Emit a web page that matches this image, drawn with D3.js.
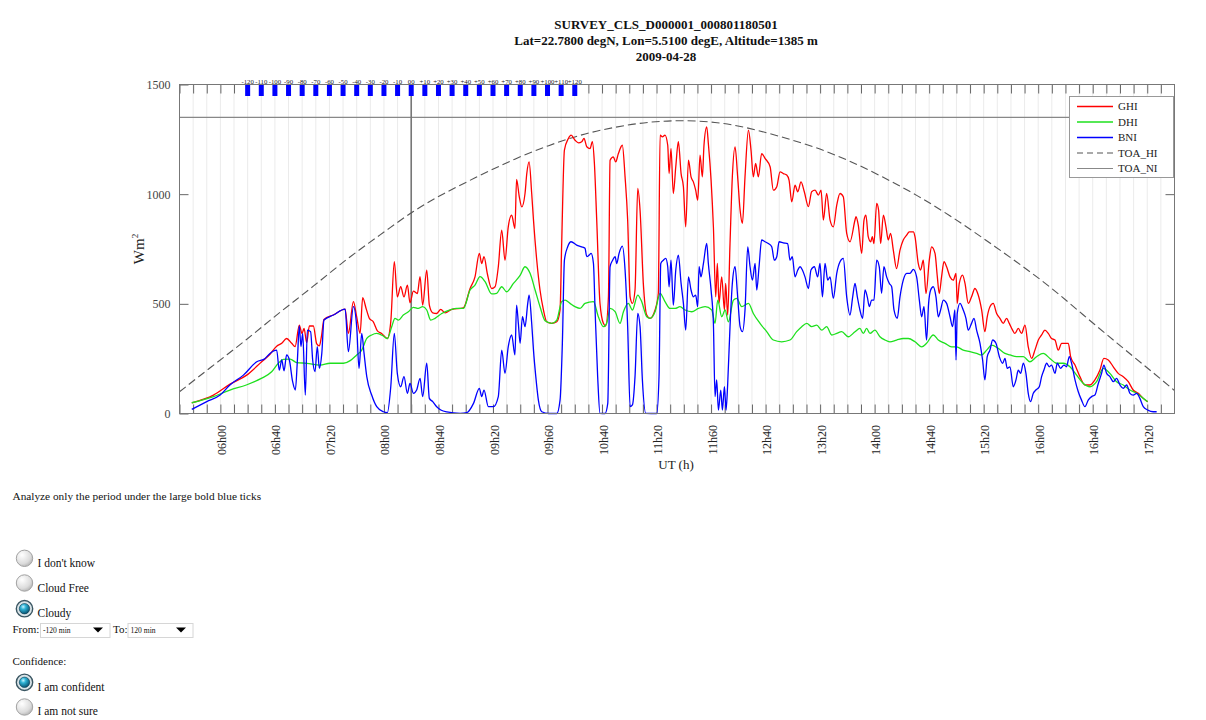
<!DOCTYPE html>
<html><head><meta charset="utf-8">
<script src="https://cdn.jsdelivr.net/npm/d3@7"></script>
<style>
body{margin:0;background:#fff;}
svg{display:block;}
text{font-family:"Liberation Serif","Times New Roman",serif;}
</style>
</head><body>
<svg id="c" width="1206" height="720"></svg>
<script>
// ---------------- data ----------------
const titleLines = ["SURVEY_CLS_D000001_000801180501",
  "Lat=22.7800 degN, Lon=5.5100 degE, Altitude=1385 m",
  "2009-04-28"];
const xTickLabels = ["06h00","06h40","07h20","08h00","08h40","09h20","09h60","10h40","11h20",
  "11h60","12h40","13h20","14h00","14h40","15h20","16h00","16h40","17h20"];
const yTickValues = [0,500,1000,1500];
const centerTime = 500; // 08:20 UT, minutes
const blueTickOffsets = [-120,-110,-100,-90,-80,-70,-60,-50,-40,-30,-20,-10,0,10,20,30,40,50,60,70,80,90,100,110,120];
const blueTickLabels = ["-120","-110","-100","-90","-80","-70","-60","-50","-40","-30","-20","-10","00",
  "+10","+20","+30","+40","+50","+60","+70","+80","+90","+100","+110","+120"];
const seriesNames = ["GHI","DHI","BNI","TOA_HI","TOA_NI"];
const TOA_NI = 1350;
// [minutes since 00:00 UT, W/m2]
const TOA_HI = [[330,99],[355,221],[379,335],[404,464],[428,578],[453,707],[477,813],[502,927],[526,1011],[551,1087],[576,1162],[601,1223],[625,1273],[650,1307],[674,1330],[698,1337],[723,1330],[747,1304],[772,1261],[796,1216],[821,1155],[846,1079],[871,996],[895,904],[920,798],[944,692],[969,578],[993,449],[1018,320],[1042,198],[1060,105]];
const GHI = [[339,49],[354.9,84],[367.1,134],[379.3,175],[390.3,236],[396.4,270],[401.3,307],[405,320],[408.6,342],[412.3,320],[414.8,305],[417.9,403],[419.9,365],[421.4,388],[423.3,323],[425.3,399],[428.2,399],[430.7,317],[432.6,308],[434.1,350],[436,429],[442.9,449],[451.5,476],[453.9,365],[457.6,510],[460,441],[462.5,365],[464.4,528],[466.9,479],[469.3,434],[472.2,418],[475.2,377],[478.3,365],[482.5,342],[485,418],[487.6,692],[489.8,532],[492.3,578],[494.7,532],[497.2,585],[499.1,505],[501.6,558],[504.5,547],[506.5,624],[508.4,494],[511.4,654],[513.3,494],[515.8,459],[518.7,456],[521.7,475],[524.9,459],[529.8,475],[538.3,482],[543.2,570],[546.8,623],[550,730],[551.7,684],[553.4,715],[555.9,636],[559,570],[561.5,578],[563.9,669],[566.4,836],[568.8,699],[571.2,851],[573.7,904],[576.1,844],[577.3,1067],[579.3,988],[581.1,942],[583.5,1003],[584.8,1094],[586.5,1147],[588.4,1003],[589.7,882],[592.1,699],[594.5,563],[597,472],[599.4,418],[603.1,411],[606.8,418],[609.2,472],[610.4,775],[612.4,1201],[615.3,1254],[617.3,1269],[620.2,1246],[622.7,1234],[625.1,1239],[626.8,1254],[628.8,1216],[631.2,1208],[632.9,1239],[634.4,1140],[636.1,882],[638.5,502],[641,411],[642.7,399],[644.7,532],[645.9,1155],[648.3,1170],[650,1147],[652,1185],[654.9,1223],[656.9,1079],[658.8,882],[660.6,532],[662.3,502],[664.2,563],[666.2,1026],[667.9,927],[670.3,593],[672.8,449],[675.2,434],[678.9,472],[681.3,548],[682.6,1269],[684.3,1261],[686.2,1269],[688.2,1223],[689.2,1094],[690.6,1208],[692.3,1003],[694.1,1125],[696,1239],[698,1094],[699.7,1034],[701.4,851],[703.4,1155],[705.3,1079],[707,1056],[708.7,1018],[710.2,973],[711.9,1178],[713.6,1079],[714.8,1223],[716.8,1307],[718,1231],[720,1064],[721.7,851],[723.4,532],[724.6,684],[725.8,502],[727.8,623],[729.8,472],[730.7,593],[732.2,449],[733.9,775],[735.6,1079],[737.6,1216],[739.5,1079],[741.3,927],[743,867],[744.9,1079],[747.4,1292],[749.3,1201],[751,1079],[752.7,1140],[754.7,1079],[757.1,1185],[759.6,1163],[763.3,1125],[765.7,1018],[768.2,1034],[770.6,1102],[773,1094],[775.5,1087],[777.2,1064],[779.2,965],[781.6,1041],[783.6,1011],[786,1056],[788.4,1011],[791.4,943],[793.8,1011],[796.3,1018],[798.7,996],[800.7,1018],[802.4,882],[804.8,1003],[807.3,882],[809.7,851],[812.2,950],[814.6,1003],[817,988],[819.5,821],[821.9,783],[825.6,882],[826.3,897],[828,859],[830.5,730],[832.2,882],[833.6,904],[835.3,806],[837.1,783],[838.3,806],[839.5,775],[841.5,958],[842.9,927],[844.4,775],[846.4,904],[848.3,851],[850,791],[851.7,821],[853.7,745],[856.1,661],[858.6,745],[861,791],[863.5,813],[865.4,828],[868.4,828],[869.6,806],[872,684],[873.7,654],[875.7,699],[877.7,547],[880.1,699],[881.8,760],[884.3,730],[886,623],[887.4,547],[889.1,623],[890.9,692],[892.8,669],[895.3,623],[897.7,608],[899.7,639],[900.6,502],[902.1,593],[904.5,631],[906.3,593],[908.7,502],[911.1,532],[913.6,570],[916,540],[918.5,472],[920.9,373],[922.6,441],[924.6,487],[927,502],[929.5,456],[931.9,434],[934.4,411],[936.8,434],[938.8,411],[941.2,380],[942.9,365],[945.4,388],[947.8,365],[950.3,403],[952.7,304],[955.2,251],[957.6,289],[960.1,335],[962.5,358],[964.9,380],[967.4,365],[969.8,342],[972.3,335],[974.7,289],[977.2,320],[979.6,320],[982.1,320],[983.8,259],[987,221],[990.6,168],[994.3,130],[998,130],[1001.6,153],[1005.3,198],[1008.2,251],[1011.4,244],[1015.1,213],[1018.7,183],[1022.4,168],[1026.1,145],[1029.7,107],[1033.4,92],[1037.1,69],[1040.3,54]];
const DHI = [[339,49],[355,77],[367,107],[379,130],[390,160],[397.6,190],[402.5,229],[406.3,247],[411.2,248],[416,232],[423.4,229],[433.1,221],[440.5,229],[450.3,229],[455.2,241],[460,267],[463.7,289],[467.4,342],[471,358],[474.7,365],[479.6,353],[482.5,342],[485.7,396],[488.1,434],[490.6,426],[494.2,449],[497.9,464],[501.6,484],[505.2,479],[508.4,487],[511.4,472],[514.3,426],[517.5,434],[522.4,456],[528.5,472],[533.4,479],[538.3,479],[543.2,563],[546.8,585],[550.5,624],[554.2,601],[559,545],[562.7,548],[566.4,578],[570,555],[575,593],[580,631],[583.5,669],[587.2,639],[590.9,563],[594.5,487],[598.2,423],[603.1,411],[606.8,426],[610.4,510],[612.9,517],[616.5,502],[620.2,487],[623.9,479],[627.5,502],[633.7,510],[637.3,441],[641,396],[643.4,411],[645.9,479],[649.6,464],[653.2,411],[655.7,464],[659.3,502],[662.3,472],[666.2,540],[669.1,510],[672.8,441],[675.2,434],[678.9,464],[682.6,548],[686.2,510],[689.9,479],[693.6,479],[697.2,487],[700.9,472],[705.8,464],[710.7,479],[715.6,487],[720.5,472],[722.9,411],[724.9,517],[727.8,441],[730.3,472],[732.7,418],[736.4,517],[738.8,525],[742.5,487],[747.4,502],[751,456],[755.9,411],[760.8,373],[765.7,335],[771.8,327],[777.9,335],[782.8,373],[786.5,396],[790.2,411],[793.8,396],[797.5,403],[801.2,380],[804.8,396],[808.5,358],[812.2,365],[815.8,373],[820.7,350],[825.6,373],[829.2,388],[831.7,365],[834.1,388],[836.6,365],[840.2,380],[843.9,350],[847.6,335],[851.2,327],[856.1,335],[861,342],[864.7,342],[869.6,327],[874.5,304],[878.1,320],[883,358],[886.7,335],[891.6,320],[896.5,304],[900.1,304],[905,289],[909.9,282],[914.8,274],[918.5,267],[922.2,289],[925.8,312],[930.7,297],[935.6,274],[939.3,267],[944.2,259],[949.1,259],[953.9,236],[958.8,259],[963.7,274],[968.6,251],[973.5,229],[978.4,229],[983.3,213],[988.2,175],[993.1,137],[998,122],[1002.8,145],[1007.7,206],[1012.6,183],[1017.5,145],[1022.4,130],[1027.3,107],[1032.2,92],[1037.1,69],[1040.3,54]];
const BNI = [[339,19],[350,54],[359.8,84],[367,130],[376.9,175],[386.7,236],[392.8,251],[396.4,274],[401.3,289],[403.2,198],[405,244],[406.7,195],[408.6,267],[410.6,244],[413,145],[415,107],[416.5,244],[417.9,399],[419.1,305],[420.4,365],[422.3,84],[423.8,380],[426.2,373],[427.7,244],[429.4,191],[431.1,305],[432.6,206],[434.4,274],[436,426],[442.9,449],[451.5,476],[453.9,282],[457.6,487],[460,396],[461.7,206],[463.7,365],[465.4,274],[467.4,168],[471,84],[474.7,31],[479.6,8],[482.5,4],[485,122],[487.6,365],[489.8,183],[492.3,122],[494.7,168],[497.2,92],[499.1,137],[501.6,92],[504,107],[506.5,160],[508.4,77],[511.4,229],[513.3,69],[515.8,54],[518.7,31],[521.7,16],[526.1,7],[535.9,1],[540.8,4],[545.7,46],[550,115],[551.7,77],[553.4,107],[556.6,31],[560.3,31],[563.9,77],[566.4,289],[568.8,183],[571.2,305],[573.7,358],[576.1,267],[577.3,494],[578.6,411],[579.9,320],[581.6,441],[583.5,396],[585.5,502],[586.5,540],[588.4,411],[589.7,289],[591.4,168],[593.3,61],[595.8,8],[600.7,0],[606.8,0],[609.2,61],[610.9,320],[612.4,699],[614.8,760],[617.3,783],[621.4,768],[625.1,760],[627.5,753],[628.8,715],[630.5,722],[632,730],[633.7,684],[634.9,472],[636.8,168],[638.5,1],[642.2,0],[644.2,46],[645.9,669],[647.8,699],[649.6,715],[650.8,684],[652.5,730],[654.9,763],[656.9,654],[658.8,396],[660.6,31],[662.3,39],[664.2,168],[666.2,456],[667.9,396],[669.6,153],[672.1,1],[680.1,0],[681.8,168],[683.1,684],[685,699],[686.7,707],[688.2,669],[689.2,578],[690.6,699],[692.3,494],[694.1,654],[696,722],[698,593],[699.7,502],[701.4,380],[703.4,623],[705.3,563],[707,532],[708.7,540],[710.2,487],[711.2,669],[712.6,623],[714.4,684],[716.8,775],[718,684],[720,563],[721.7,411],[722.9,77],[724.1,153],[725.4,16],[727.1,107],[728.3,16],[729.8,122],[731,16],[732.2,137],[733.9,396],[735.6,593],[737.6,669],[739.5,532],[741.3,396],[743,373],[744.9,472],[746.9,760],[748.6,669],[750.3,608],[752.3,684],[753.5,563],[755.2,669],[757.1,791],[759.6,783],[762,775],[764.5,760],[766.4,699],[768.2,715],[769.9,783],[773,778],[776.2,775],[777.9,699],[779.6,715],[781.6,623],[783.6,654],[785.3,669],[787,654],[788.9,623],[791.4,570],[793.3,654],[795.8,669],[798.2,623],[799.9,684],[801.7,532],[803.6,684],[805.6,608],[807.3,623],[809.7,525],[812.2,639],[814.6,692],[817,707],[819.5,532],[821.9,449],[823.9,532],[825.6,593],[827.3,532],[829.2,472],[831.2,434],[832.9,563],[834.6,532],[836.1,487],[837.8,517],[839.5,517],[841.5,699],[843.4,669],[845.1,548],[846.8,669],[848.8,623],[850.8,593],[852.5,578],[854.2,472],[856.6,434],[858.6,532],[861,608],[863.5,639],[865.9,639],[868.4,657],[870.8,623],[872.8,517],[874.5,441],[876.2,487],[878.1,335],[879.6,502],[881.1,563],[883,578],[885,532],[886.7,441],[888.4,472],[890.4,517],[892.8,502],[895.3,441],[897.2,396],[898.9,472],[899.7,244],[900.6,456],[902.6,502],[905,472],[907,434],[908.7,380],[911.1,411],[912.9,434],[914.8,380],[917.3,320],[919.2,244],[920.9,153],[922.6,259],[924.6,289],[926.6,335],[929,320],[931.5,259],[933.9,229],[935.6,251],[937.3,206],[939.3,213],[941.7,122],[943.7,153],[945.4,198],[947.1,183],[949.1,229],[951,183],[952.7,92],[954.4,54],[956.4,92],[958.3,107],[960.8,122],[962.5,168],[964.2,198],[966.2,229],[968.1,213],[969.8,221],[972.3,183],[974,229],[976.4,206],[978.9,221],[980.8,213],[982.8,259],[984.5,229],[987,153],[989.4,99],[991.8,61],[994.3,31],[996.7,61],[999.2,77],[1001.6,84],[1004.1,137],[1006.5,183],[1008.2,221],[1010.2,183],[1012.6,168],[1015.1,145],[1017.5,160],[1020,130],[1022.4,115],[1024.9,130],[1027.3,92],[1029.7,84],[1032.2,92],[1034.6,69],[1037.1,31],[1040.3,16],[1044.4,8],[1046.9,8]];
const formText = {
  instruction: "Analyze only the period under the large bold blue ticks",
  sky: ["I don't know","Cloud Free","Cloudy"], skyChecked: 2,
  from: "-120 min", to: "120 min",
  confidence: "Confidence:",
  conf: ["I am confident","I am not sure"], confChecked: 0
};

// ---------------- chart ----------------
const svg = d3.select("#c");
const L = 179.5, R = 1174.5, T = 84.5, B = 413.5;
const x = d3.scaleLinear().domain([330, 1060]).range([L, R]);
const y = d3.scaleLinear().domain([0, 1500]).range([B, T]);
const colors = {GHI:"#ff0000", DHI:"#1ee01e", BNI:"#0000ff", TOA_HI:"#555", TOA_NI:"#888"};
const minorTicks = d3.range(330, 1060, 10);
const labelTimes = d3.range(360, 1041, 40);

svg.append("rect").attr("width",1206).attr("height",720).attr("fill","#fff");

// title
svg.append("g").selectAll("text").data(titleLines).join("text")
  .attr("x", 666).attr("y", (d,i) => 28.5 + i*16)
  .attr("text-anchor","middle").attr("font-weight","bold").attr("font-size","13px")
  .attr("fill","#111").text(d => d);

// vertical grid
svg.append("g").selectAll("line").data(minorTicks).join("line")
  .attr("x1", d => x(d)).attr("x2", d => x(d)).attr("y1", T).attr("y2", B)
  .attr("stroke","#ebebeb").attr("stroke-width",1);

// axes (inward ticks)
function styleAxis(g){ g.select(".domain").remove(); g.selectAll("line").attr("stroke","#666"); }
svg.append("g").attr("transform",`translate(0,${B})`)
  .call(d3.axisBottom(x).tickValues(minorTicks).tickSize(-9).tickFormat("")).call(styleAxis);
svg.append("g").attr("transform",`translate(0,${T})`)
  .call(d3.axisTop(x).tickValues(minorTicks).tickSize(-9).tickFormat("")).call(styleAxis);
const gLab = svg.append("g").attr("transform",`translate(0,${B})`)
  .call(d3.axisBottom(x).tickValues(labelTimes).tickSize(0).tickFormat((d,i) => xTickLabels[i]));
gLab.select(".domain").remove();
gLab.selectAll("text").attr("transform","rotate(-90)").attr("text-anchor","end")
  .attr("x",-11.5).attr("y",0).attr("dy","0.42em")
  .attr("font-family","Liberation Serif").attr("font-size","12px").attr("fill","#222");
const gY = svg.append("g").attr("transform",`translate(${L},0)`)
  .call(d3.axisLeft(y).tickValues(yTickValues).tickSize(-9).tickPadding(9).tickFormat(d3.format("d"))).call(styleAxis);
gY.selectAll("text").attr("font-family","Liberation Serif").attr("font-size","12px").attr("fill","#444");
svg.append("g").attr("transform",`translate(${R},0)`)
  .call(d3.axisRight(y).tickValues(yTickValues.slice(1,3)).tickSize(-9).tickFormat("")).call(styleAxis);

// TOA_NI horizontal
svg.append("line").attr("x1",L).attr("x2",R).attr("y1",y(TOA_NI)).attr("y2",y(TOA_NI))
  .attr("stroke",colors.TOA_NI).attr("stroke-width",1.2);
// center vertical line
svg.append("line").attr("x1",x(centerTime)).attr("x2",x(centerTime)).attr("y1",T).attr("y2",B)
  .attr("stroke","#777").attr("stroke-width",1.6);

// TOA_HI dashed
svg.append("path").datum(TOA_HI)
  .attr("d", d3.line().x(d=>x(d[0])).y(d=>y(d[1])).curve(d3.curveBasis))
  .attr("fill","none").attr("stroke",colors.TOA_HI).attr("stroke-width",1.1).attr("stroke-dasharray","8,4");

// series
const line = d3.line().x(d=>x(d[0])).y(d=>y(d[1])).curve(d3.curveMonotoneX);
[["GHI",GHI],["DHI",DHI],["BNI",BNI]].forEach(([n,data]) => {
  svg.append("path").datum(data).attr("d", line)
    .attr("fill","none").attr("stroke",colors[n]).attr("stroke-width",1.3).attr("stroke-linejoin","round");
});

// frame
svg.append("rect").attr("x",L).attr("y",T).attr("width",R-L).attr("height",B-T)
  .attr("fill","none").attr("stroke","#777").attr("stroke-width",1);

// blue bold ticks
const blueG = svg.append("g");
blueG.selectAll("rect").data(blueTickOffsets).join("rect")
  .attr("x", d => x(centerTime + d) - 2.5).attr("y", T+0.5).attr("width",5).attr("height",11)
  .attr("fill","#0000ff");
blueG.selectAll("text").data(blueTickOffsets).join("text")
  .attr("x", d => x(centerTime + d)).attr("y", 83.5).attr("text-anchor","middle")
  .attr("font-family","Liberation Sans, Arial, sans-serif").attr("font-size","6.8px").attr("fill","#222")
  .text((d,i) => blueTickLabels[i]);

// axis titles
svg.append("text").attr("transform","translate(676,468.5)").attr("text-anchor","middle")
  .attr("font-size","13px").attr("fill","#222").text("UT (h)");
const yl = svg.append("text").attr("transform","translate(143.5,249) rotate(-90)").attr("text-anchor","middle")
  .attr("font-size","15px").attr("fill","#222");
yl.append("tspan").text("Wm");
yl.append("tspan").attr("dy",-6).attr("font-size","9px").text("2");

// legend
const lg = svg.append("g");
lg.append("rect").attr("x",1069.5).attr("y",96.5).attr("width",104).attr("height",81)
  .attr("fill","#fff").attr("stroke","#999");
seriesNames.forEach((n,i) => {
  const yy = 106.5 + i*15.5;
  lg.append("line").attr("x1",1077).attr("x2",1113).attr("y1",yy).attr("y2",yy)
    .attr("stroke",colors[n]).attr("stroke-width", i<3 ? 1.3 : 1.1)
    .attr("stroke-dasharray", n==="TOA_HI" ? "6,4" : null);
  lg.append("text").attr("x",1118).attr("y",yy).attr("dy","0.35em")
    .attr("font-size","11px").attr("fill","#222").text(n);
});

// ---------------- form ----------------
const defs = svg.append("defs");
const g1 = defs.append("radialGradient").attr("id","rOff").attr("cx","35%").attr("cy","30%").attr("r","75%");
g1.append("stop").attr("offset","0%").attr("stop-color","#ffffff");
g1.append("stop").attr("offset","70%").attr("stop-color","#dcdcdc");
g1.append("stop").attr("offset","100%").attr("stop-color","#b4b4b4");
const g2 = defs.append("radialGradient").attr("id","rOn").attr("cx","38%").attr("cy","32%").attr("r","70%");
g2.append("stop").attr("offset","0%").attr("stop-color","#c8f4ff");
g2.append("stop").attr("offset","35%").attr("stop-color","#2fb3d6");
g2.append("stop").attr("offset","100%").attr("stop-color","#07506e");

const form = svg.append("g").attr("fill","#111");
form.append("text").attr("x",12.5).attr("y",499.5).attr("font-size","11.3px").text(formText.instruction);
function radio(cy, on){
  form.append("circle").attr("cx",24.5).attr("cy",cy).attr("r",8.2)
    .attr("fill", on ? "#d9e4e8" : "url(#rOff)").attr("stroke", on ? "#3b5662" : "#a2a2a2").attr("stroke-width", on ? 1.4 : 1);
  if (on) form.append("circle").attr("cx",24.5).attr("cy",cy).attr("r",5.2).attr("fill","url(#rOn)")
    .attr("stroke","#0b3a50").attr("stroke-width",0.6);
}
const skyY = [558.3, 583, 608.7], skyBase = [567, 592.3, 617.3];
formText.sky.forEach((s,i) => {
  radio(skyY[i], i === formText.skyChecked);
  form.append("text").attr("x",37.5).attr("y",skyBase[i]).attr("font-size","11.5px").text(s);
});
form.append("text").attr("x",12.5).attr("y",633.3).attr("font-size","11px").text("From:");
form.append("text").attr("x",113).attr("y",633.3).attr("font-size","11px").text("To:");
function select(x0, w, label){
  form.append("rect").attr("x",x0).attr("y",623.5).attr("width",w).attr("height",14)
    .attr("fill","#fff").attr("stroke","#d6d6d6");
  form.append("text").attr("x",x0+2.5).attr("y",632.5).attr("font-family","Liberation Sans, Arial, sans-serif")
    .attr("font-size","7.6px").text(label);
  const cx = x0 + w - 12;
  form.append("path").attr("d",`M${cx-5},627.5 L${cx+5},627.5 L${cx},632.5 Z`).attr("fill","#000");
}
select(40.5, 69.5, formText.from);
select(128, 65, formText.to);
form.append("text").attr("x",12.5).attr("y",665).attr("font-size","11px").text(formText.confidence);
const confY = [682.3, 707], confBase = [690.7, 715];
formText.conf.forEach((s,i) => {
  radio(confY[i], i === formText.confChecked);
  form.append("text").attr("x",37.5).attr("y",confBase[i]).attr("font-size","11.5px").text(s);
});
</script>
</body></html>
